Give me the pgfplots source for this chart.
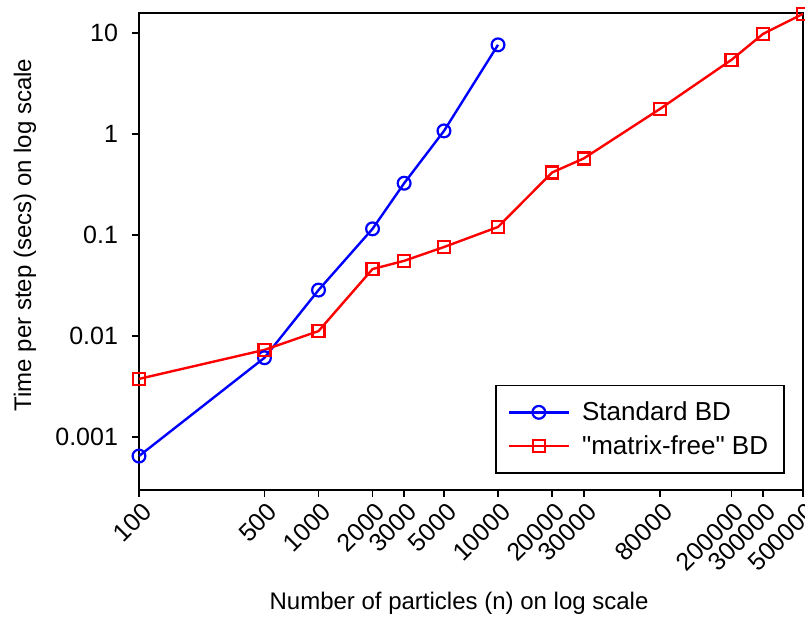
\documentclass[border=0pt]{standalone}
\usepackage{fontspec}
\setmainfont{Liberation Sans}[Ligatures=TeXOff]
\usepackage{pgfplots}
\pgfplotsset{compat=1.18}

\pgfplotstableread{
n y
100 0.00065
500 0.0061
1000 0.0285
2000 0.115
3000 0.325
5000 1.07
10000 7.6
}\standard

\pgfplotstableread{
n y
100 0.00377
500 0.0073
1000 0.0112
2000 0.046
3000 0.0555
5000 0.076
10000 0.12
20000 0.415
30000 0.571
80000 1.77
200000 5.41
300000 9.77
500000 15.4
}\matfree

\begin{document}
\begin{tikzpicture}
\begin{axis}[
    at={(0,0)}, anchor=south west,
    scale only axis,
    width=332pt, height=238.5pt,
    xmode=log, ymode=log,
    xmin=100, xmax=500000,
    ymin=0.0003, ymax=15.7,
    font=\fontsize{12.5pt}{15pt}\selectfont,
    /pgf/number format/assume math mode=true,
    axis line style={line width=0.9pt},
    tick style={line width=0.9pt, black},
    tick align=outside,
    major tick length=3.5pt,
    xtick pos=left, ytick pos=left,
    xminorticks=false, yminorticks=false,
    xtick={100,500,1000,2000,3000,5000,10000,20000,30000,80000,200000,300000,500000},
    xticklabels={100,500,1000,2000,3000,5000,10000,20000,30000,80000,200000,300000,500000},
    ytick={0.001,0.01,0.1,1,10},
    yticklabels={0.001,0.01,0.1,1,10},
    xticklabel style={rotate=45, anchor=north east, inner sep=1pt, xshift=0.3pt, yshift=-1pt},
    yticklabel style={xshift=-3.5pt},
    xlabel={Number of particles (n) on log scale},
    ylabel={Time per step (secs) on log scale},
    label style={font=\fontsize{12pt}{14pt}\selectfont},
    xlabel style={at={(rel axis cs:0.482,-0.237)}, anchor=center},
    ylabel style={at={(rel axis cs:-0.1717,0.5346)}, anchor=center},
    clip=false,
    legend style={at={(rel axis cs:1,0)}, anchor=south east,
                  xshift=-9pt, yshift=8pt,
                  draw=black, line width=0.9pt,
                  inner xsep=6pt, inner ysep=6pt,
                  row sep=2pt, column sep=4pt,
                  font=\fontsize{13pt}{15pt}\selectfont},
    legend cell align=left,
    legend image code/.code={
        \draw[mark repeat=2, mark phase=2]
            plot coordinates {(0pt,0pt) (15pt,0pt) (30pt,0pt)};
    },
]
\addplot[blue, line width=1.2pt, mark=o, mark size=3.2pt,
         mark options={line width=1.1pt}] table[x=n, y=y] {\standard};
\addplot[red, line width=1.2pt, mark=square, mark size=3pt,
         mark options={line width=1.1pt}] table[x=n, y=y] {\matfree};
\legend{Standard BD, "matrix-free" BD}
\end{axis}
\pgfresetboundingbox
\path[use as bounding box] (-69.5pt,-68pt) rectangle (333pt,245pt);
\end{tikzpicture}
\end{document}
